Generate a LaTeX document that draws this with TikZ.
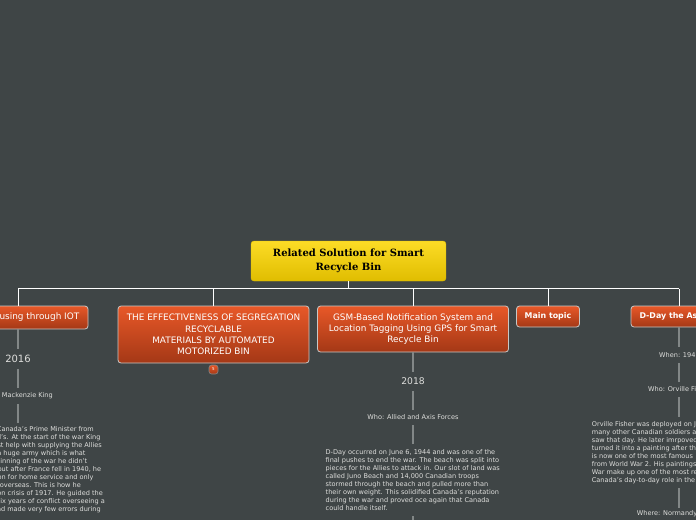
\documentclass[tikz,border=0pt]{standalone}
\usepackage{fontspec}
\setmainfont{DejaVu Sans}
\newfontfamily\titlefont{DejaVu Serif}
\usetikzlibrary{positioning,calc}
\definecolor{mapbg}{RGB}{63,69,70}
\definecolor{rootlight}{RGB}{252,220,38}
\definecolor{rootdark}{RGB}{224,189,0}
\definecolor{topiclight}{RGB}{232,88,40}
\definecolor{topicdark}{RGB}{164,56,22}
\definecolor{topicedge}{RGB}{200,200,198}
\definecolor{stemgrey}{RGB}{130,135,135}
\definecolor{leaftext}{RGB}{222,222,220}

\begin{document}
\begin{tikzpicture}[x=1pt, y=-1pt,
    root/.style={draw=rootdark, rounded corners=3pt, top color=rootlight, bottom color=rootdark,
        minimum width=195pt, minimum height=40pt, align=center, inner sep=0pt,
        font=\titlefont\bfseries\fontsize{10}{13.5}\selectfont, text=black},
    topic/.style={draw=topicedge, line width=0.8pt, rounded corners=3pt, top color=topiclight, bottom color=topicdark,
        align=center, inner sep=0pt, text=white, font=\fontsize{8.9}{11.4}\selectfont},
    bold topic/.style={topic, font=\bfseries\fontsize{7.9}{10}\selectfont},
    leaf/.style={text=leaftext, inner sep=0pt, font=\fontsize{6.55}{8}\selectfont},
    para/.style={leaf, align=left},
    year/.style={leaf, font=\fontsize{10}{10}\selectfont},
    link/.style={white, line width=0.9pt},
    stem/.style={stemgrey, line width=1.2pt}
]
    \useasboundingbox (0,0) rectangle (696,520);
    \fill[mapbg] (0,0) rectangle (696,520);
    \clip (0,0) rectangle (696,520);

    \node[root] (mainRoot) at (348.5,261) {Related Solution for Smart\\Recycle Bin};

    \node[topic, minimum width=140pt, minimum height=23pt] (iotBox) at (18,317.5) {};
    \node[topic, anchor=center, minimum width=191pt, minimum height=57pt] (segBox) at (213.5,334.5)
        {THE EFFECTIVENESS OF SEGREGATION\\RECYCLABLE\\MATERIALS BY AUTOMATED\\MOTORIZED BIN};
    \node[topic, minimum width=191pt, minimum height=46pt] (gsmBox) at (413,329)
        {GSM-Based Notification System and\\Location Tagging Using GPS for Smart\\Recycle Bin};
    \node[bold topic, minimum width=63pt, minimum height=21pt] (mainBox) at (548,316.5) {Main topic};
    \node[bold topic, minimum width=96pt, minimum height=21pt] (dayBox) at (679,316.5) {};
    \node[text=white, inner sep=0pt, anchor=east, font=\fontsize{8.9}{11.4}\selectfont] (iotText) at (79.5,317.5) {using through IOT};
    \node[text=white, inner sep=0pt, anchor=west, font=\bfseries\fontsize{7.9}{10}\selectfont] (dayText) at (639.3,316.5) {D-Day the As};

    \node[topic, minimum size=9pt, rounded corners=2.5pt, line width=0.6pt, draw=stemgrey, font=\fontsize{4}{4}\selectfont] (segBadge) at (213.5,369.5) {5};

    \coordinate (busLeft) at (18,288.5);
    \coordinate (busRight) at (679,288.5);
    \draw[link] (mainRoot.south) -- (mainRoot.south |- busLeft);
    \draw[link] (busLeft) -- (busRight);
    \foreach \boxname in {iotBox,segBox,gsmBox,mainBox,dayBox}
        \draw[link] (\boxname.north) -- (\boxname.north |- busLeft);

    \node[year, minimum height=20pt] (iotYear) at (18,359) {2016};
    \node[leaf, anchor=east, minimum height=16pt] (iotWho) at (53,396) {Mackenzie King};
    \draw[stem] (iotBox.south) -- (iotYear.north);
    \draw[stem] (iotYear.south) -- (iotYear.south |- iotWho.north);
    \coordinate (iotTop) at (18,423);
    \draw[stem] (iotTop |- iotWho.south) -- (iotTop);
    \foreach \xr/\yl/\txt in {94/429.5/Canada's Prime Minister from,
        100.7/437.5/l's. At the start of the war King,
        102/445.5/st help with supplying the Allies,
        85.7/453.5/a huge army which is what,
        87.5/461.5/inning of the war he didn't,
        101.3/469.5/but after France fell in 1940{,} he,
        93.7/477.5/on for home service and only,
        81/485.5/overseas. This is how he,
        103/493.5/on crisis of 1917. He guided the,
        105/501.5/six years of conflict overseeing a,
        101/509.5/ad made very few errors during}
        \node[leaf, anchor=east] at (\xr,\yl) {\txt};

    \node[year, minimum height=19pt, font=\fontsize{9.2}{10}\selectfont] (gsmYear) at (413,381.5) {2018};
    \node[leaf, minimum height=15pt] (gsmWho) at (413,417.5) {Who: Allied and Axis Forces};
    \node[para, anchor=north west, minimum height=72pt] (gsmPara) at (325.5,444)
        {D-Day occurred on June 6, 1944 and was one of the\\
        final pushes to end the war. The beach was split into\\
        pieces for the Allies to attack in. Our slot of land was\\
        called Juno Beach and 14,000 Canadian troops\\
        stormed through the beach and pulled more than\\
        their own weight. This solidified Canada's reputation\\
        during the war and proved oce again that Canada\\
        could handle itself.};
    \coordinate (gsmEnd) at (413,520);
    \draw[stem] (gsmBox.south) -- (gsmYear.north);
    \draw[stem] (gsmYear.south) -- (gsmWho.north);
    \draw[stem] (gsmWho.south) -- (gsmWho.south |- gsmPara.north);
    \draw[stem] (gsmEnd |- gsmPara.south) -- (gsmEnd);

    \node[leaf, anchor=west, minimum height=16pt] (dayWhen) at (659,355) {When: 194};
    \node[leaf, anchor=west, minimum height=15pt] (dayWho) at (648,389.5) {Who: Orville Fi};
    \node[para, anchor=north west, minimum height=71pt] (dayPara) at (591.7,417)
        {Orville Fisher was deployed on J\\
        many other Canadian soldiers a\\
        saw that day. He later imrpoved\\
        turned it into a painting after th\\
        is now one of the most famous \\
        from World War 2. His paintings\\
        War make up one of the most re\\
        Canada's day-to-day role in the};
    \node[leaf, anchor=west, minimum height=12pt] (dayWhere) at (636.7,514) {Where: Normandy};
    \coordinate (dayAxis) at (679,400);
    \draw[stem] (dayBox.south) -- (dayBox.south |- dayWhen.north);
    \draw[stem] (dayAxis |- dayWhen.south) -- (dayAxis |- dayWho.north);
    \draw[stem] (dayAxis |- dayWho.south) -- (dayAxis |- dayPara.north);
    \draw[stem] (dayAxis |- dayPara.south) -- (dayAxis |- dayWhere.north);
\end{tikzpicture}
\end{document}
